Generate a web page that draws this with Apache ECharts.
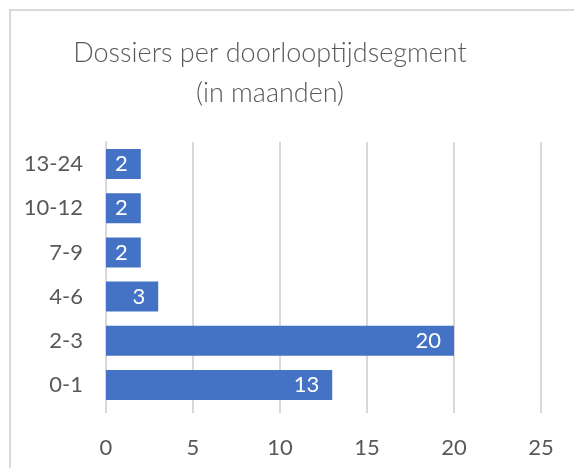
<!doctype html>
<html lang='nl'>
<head>
<title>Dossiers per doorlooptijdsegment</title>
<meta charset='utf-8'>
<style>
html, body { margin: 0; padding: 0; background: #fff; }
.chart { width: 574px; height: 468px; }
</style>
</head>
<body>
<div class="chart"></div>
<script src="https://cdn.jsdelivr.net/npm/echarts@6/dist/echarts.min.js"></script>
<script>
// categorieen van onder naar boven (ECharts tekent de eerste onderaan)
var segments = ['0-1', '2-3', '4-6', '7-9', '10-12', '13-24'];
var dossiers = [13, 20, 3, 2, 2, 2];
var xTicks = [0, 5, 10, 15, 20, 25];

var lineColor = '#d9d9d9';
var textColor = '#595959';
var font = 'Lato';

var chart = echarts.init(document.querySelector('.chart'));
chart.setOption({
    animation: false,
    title: {
        text: 'Dossiers per doorlooptijdsegment\n(in maanden)',
        left: 270,
        top: 33,
        padding: 0,
        textAlign: 'center',
        textStyle: {
            fontFamily: font,
            fontWeight: 300,
            fontSize: 27,
            lineHeight: 40,
            color: textColor
        }
    },
    graphic: [{
        type: 'polyline',
        shape: { points: [[10, 468], [10, 10], [574, 10]] },
        style: { stroke: lineColor, lineWidth: 2, fill: null },
        silent: true
    }],
    grid: { left: 106, right: 33, top: 142, bottom: 61 },
    xAxis: {
        type: 'value',
        min: xTicks[0],
        max: xTicks[xTicks.length - 1],
        interval: xTicks[1] - xTicks[0],
        axisLine: { show: false },
        axisTick: { show: true, length: 6, lineStyle: { color: lineColor, width: 2 } },
        splitLine: { show: true, lineStyle: { color: lineColor, width: 2 } },
        axisLabel: { color: textColor, fontFamily: font, fontSize: 22, margin: 30 }
    },
    yAxis: {
        type: 'category',
        data: segments,
        axisLine: { show: true, lineStyle: { color: lineColor, width: 2 } },
        axisTick: { show: false },
        axisLabel: { color: textColor, fontFamily: font, fontSize: 22, margin: 23 }
    },
    series: [{
        type: 'bar',
        data: dossiers,
        barCategoryGap: '32%',
        itemStyle: { color: '#4472c4' },
        label: {
            show: true,
            position: 'insideRight',
            distance: 13,
            color: '#fff',
            fontFamily: font,
            fontSize: 22
        }
    }]
});
</script>
</body>
</html>
